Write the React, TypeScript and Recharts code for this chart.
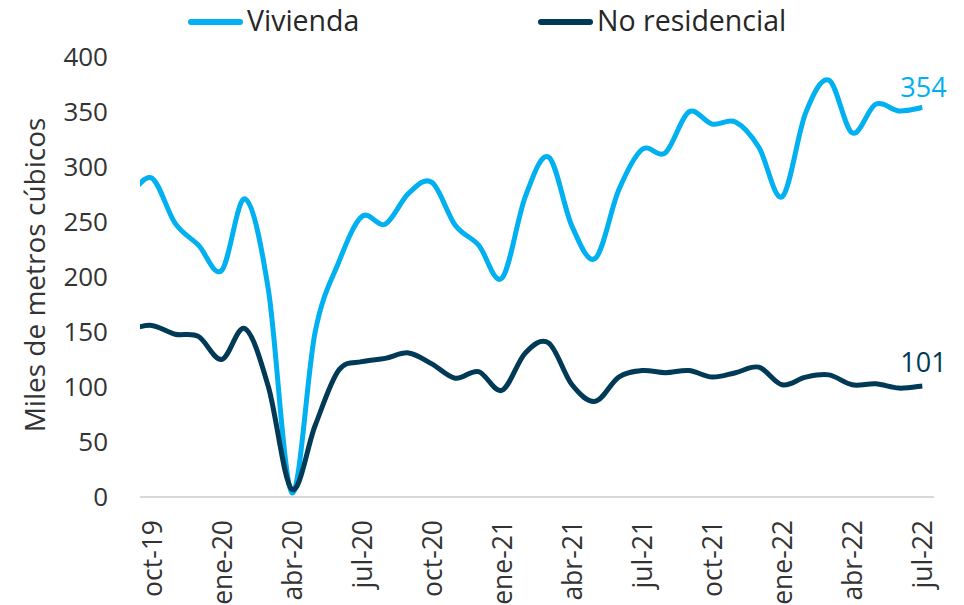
import React from 'react';
import { LineChart, Line, XAxis, YAxis, Legend, LabelList } from 'recharts';

const FONT = '"Open Sans", "Noto Sans", sans-serif';
const BLUE = '#00B0F0';
const DARK = '#003A56';
const TEXT = '#333333';

// months: index -1 (sep-19) .. 33 (jul-22)
const months = [
  'sep-19', 'oct-19', 'nov-19', 'dic-19', 'ene-20', 'feb-20', 'mar-20', 'abr-20', 'may-20', 'jun-20',
  'jul-20', 'ago-20', 'sep-20', 'oct-20', 'nov-20', 'dic-20', 'ene-21', 'feb-21', 'mar-21', 'abr-21',
  'may-21', 'jun-21', 'jul-21', 'ago-21', 'sep-21', 'oct-21', 'nov-21', 'dic-21', 'ene-22', 'feb-22',
  'mar-22', 'abr-22', 'may-22', 'jun-22', 'jul-22',
];

const vivienda = [
  272, 290, 249, 229, 206, 271, 188, 4, 150, 213,
  255, 248, 276, 286, 247, 229, 199, 273, 309, 246,
  217, 279, 316, 313, 350, 339, 341, 318, 273, 349,
  379, 331, 357, 351, 354,
];

const noResidencial = [
  152, 156, 148, 146, 125, 153, 100, 7, 65, 115,
  123, 126, 131, 121, 108, 114, 97, 131, 140, 102,
  87, 109, 115, 113, 115, 109, 113, 118, 102, 109,
  111, 102, 103, 99, 101,
];

const xTicks = [0, 3, 6, 9, 12, 15, 18, 21, 24, 27, 30, 33];
const yTicks = [0, 50, 100, 150, 200, 250, 300, 350, 400];

const data = months.map((m, i) => ({
  idx: i - 1,
  month: m,
  viv: vivienda[i],
  nores: noResidencial[i],
}));

const monthAt = (idx: number) => months[idx + 1] ?? '';

// Excel-like smoothing (Catmull-Rom style Bezier)
const excelCurve = (context: any) => {
  let pts: number[][] = [];
  return {
    areaStart() {},
    areaEnd() {},
    lineStart() {
      pts = [];
    },
    point(x: number, y: number) {
      pts.push([+x, +y]);
    },
    lineEnd() {
      if (!pts.length) return;
      context.moveTo(pts[0][0], pts[0][1]);
      for (let i = 0; i < pts.length - 1; i++) {
        const p0 = pts[i - 1] || pts[i];
        const p1 = pts[i];
        const p2 = pts[i + 1];
        const p3 = pts[i + 2] || p2;
        const c1x = p1[0] + (p2[0] - p0[0]) / 6;
        const c1y = p1[1] + (p2[1] - p0[1]) / 6;
        const c2x = p2[0] - (p3[0] - p1[0]) / 6;
        const c2y = p2[1] - (p3[1] - p1[1]) / 6;
        context.bezierCurveTo(c1x, c1y, c2x, c2y, p2[0], p2[1]);
      }
    },
  };
};

const series = [
  { key: 'viv', name: 'Vivienda', color: BLUE, legendX: 188, labelDy: -11 },
  { key: 'nores', name: 'No residencial', color: DARK, legendX: 538, labelDy: -14 },
];

const renderLegend = () => (
  <div style={{ position: 'relative', width: 964, height: 44, fontFamily: FONT, fontSize: 28.5, color: '#262626' }}>
    {series.map((s) => (
      <div
        key={s.key}
        style={{ position: 'absolute', left: s.legendX, top: 0, height: 44, display: 'flex', alignItems: 'center', whiteSpace: 'nowrap' }}
      >
        <span style={{ display: 'inline-block', width: 55, height: 6, borderRadius: 3, background: s.color, marginRight: 4 }} />
        <span style={{ lineHeight: '44px', marginTop: -4 }}>{s.name}</span>
      </div>
    ))}
  </div>
);

const XTick = (props: any) => {
  const { x, y, payload } = props;
  return (
    <g transform={`translate(${x},${y})`}>
      <text
        transform="rotate(-90)"
        x={-23}
        y={0}
        textAnchor="end"
        dominantBaseline="central"
        fontFamily={FONT}
        fontSize={26.5}
        fill={TEXT}
      >
        {monthAt(payload.value)}
      </text>
    </g>
  );
};

const endLabel = (color: string, dy: number) => (props: any) => {
  const { x, y, index, value } = props;
  if (index !== data.length - 1) return null;
  return (
    <text x={x - 22} y={y + dy} fontFamily={FONT} fontSize={27} fill={color} textAnchor="start">
      {value}
    </text>
  );
};

const YLabel = () => (
  <text
    x={34}
    y={275}
    transform="rotate(-90, 34, 275)"
    textAnchor="middle"
    dominantBaseline="central"
    fontFamily={FONT}
    fontSize={28}
    fill={TEXT}
  >
    Miles de metros cúbicos
  </text>
);

export default function App() {
  return (
    <div style={{ position: 'absolute', left: 0, top: 0, width: 964, height: 605, background: '#fff' }}>
      <LineChart width={964} height={605} data={data} margin={{ top: 13, right: 30, bottom: 8, left: 0 }}>
        <Legend
          verticalAlign="top"
          content={renderLegend}
          wrapperStyle={{ top: 0, left: 0, width: 964, height: 44 }}
        />
        <XAxis
          dataKey="idx"
          type="number"
          domain={[-0.5, 33.5]}
          allowDataOverflow
          ticks={xTicks}
          interval={0}
          tick={<XTick />}
          tickLine={false}
          tickSize={0}
          tickMargin={0}
          axisLine={{ stroke: '#D9D9D9', strokeWidth: 2 }}
          height={100}
        />
        <YAxis
          type="number"
          domain={[0, 400]}
          ticks={yTicks}
          width={140}
          axisLine={false}
          tickLine={false}
          tickSize={0}
          tickMargin={32}
          tick={{ fontFamily: FONT, fontSize: 26, fill: TEXT }}
          label={<YLabel />}
        />
        {series.map((s) => (
          <Line
            key={s.key}
            dataKey={s.key}
            name={s.name}
            type={excelCurve as any}
            stroke={s.color}
            strokeWidth={5}
            dot={false}
            activeDot={false}
            isAnimationActive={false}
          >
            <LabelList dataKey={s.key} content={endLabel(s.color, s.labelDy)} />
          </Line>
        ))}
      </LineChart>
    </div>
  );
}
